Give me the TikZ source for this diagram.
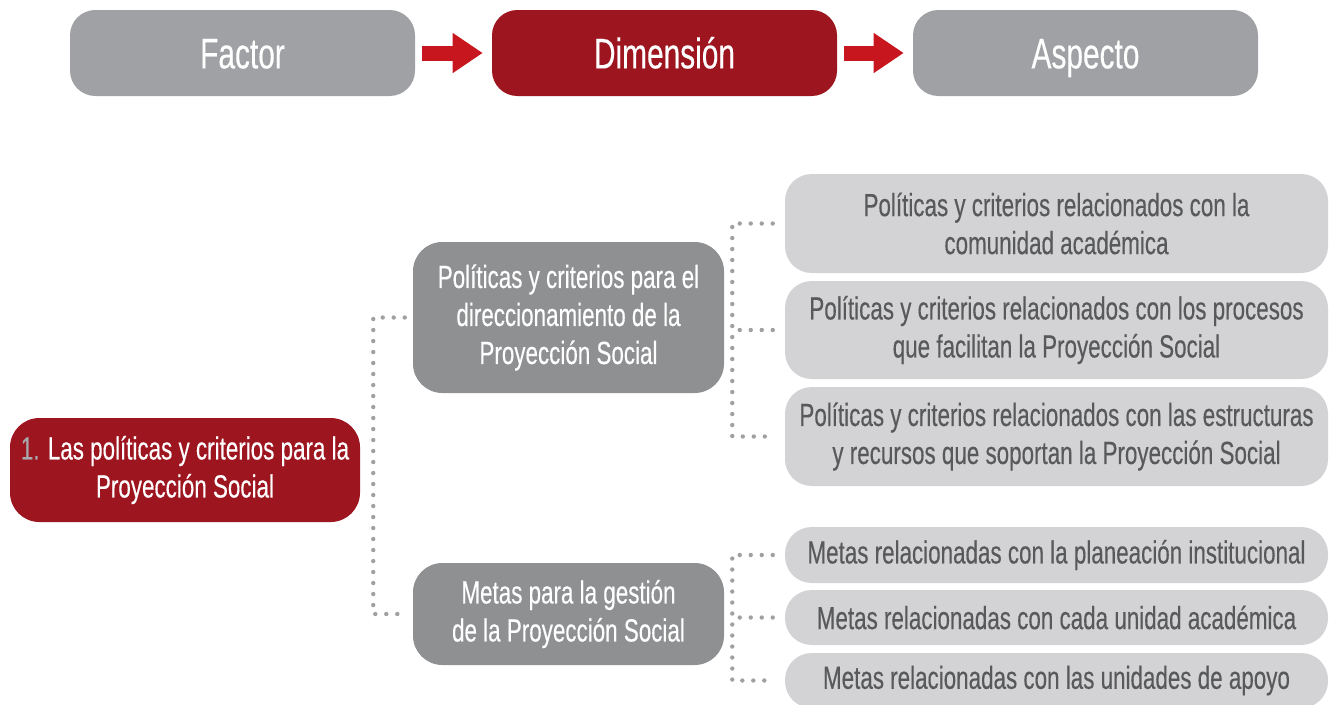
\documentclass[tikz,border=0pt]{standalone}
\usepackage{fontspec}
\setmainfont[FakeStretch=0.7,FakeBold=0.3]{Liberation Sans}
\usetikzlibrary{arrows.meta}

\definecolor{hdrgray}{RGB}{160,161,164}
\definecolor{dimgray}{RGB}{143,144,146}
\definecolor{asplight}{RGB}{211,211,213}
\definecolor{asptext}{RGB}{88,89,91}
\definecolor{darkred}{RGB}{157,21,31}
\definecolor{arrowred}{RGB}{200,22,30}
\definecolor{dotgray}{RGB}{160,160,162}
\definecolor{numgray}{RGB}{167,169,172}

\tikzset{
  hdrbox/.style={rounded corners=19pt, inner sep=0pt, minimum width=258.75pt, minimum height=64.5pt,
    text=white, text height=23pt, text depth=0pt, font=\fontsize{32}{36}\selectfont},
  dimbox/.style={fill=dimgray, rounded corners=22pt, inner sep=0pt, minimum width=233.25pt,
    text=white, align=center, font=\fontsize{24}{28.5}\selectfont},
  aspbox/.style={fill=asplight, rounded corners=20pt, inner sep=0pt, minimum width=407.25pt,
    text=asptext, align=center, font=\fontsize{24}{28.5}\selectfont},
  dotline/.style={draw=dotgray, line width=3.3pt, line cap=round, dash pattern=on 0pt off 8.25pt},
  hdrarrow/.style={draw=arrowred, line width=11.25pt, -{Triangle[length=22.5pt,width=28.5pt,fill=arrowred]}}
}

\begin{document}
\begin{tikzpicture}[x=0.75pt,y=0.75pt,yscale=-1]
\useasboundingbox (0,0) rectangle (1330,704);

%Header
\node[hdrbox, fill=hdrgray] (fac) at (242.5,53) {Factor};
\node[hdrbox, fill=darkred] (dim) at (664.5,53) {Dimensión};
\node[hdrbox, fill=hdrgray] (asp) at (1085.5,53) {Aspecto};
%Arrows
\draw[hdrarrow] ([xshift=5.25pt]fac.east) -- ([xshift=-6.75pt]dim.west);
\draw[hdrarrow] ([xshift=5.25pt]dim.east) -- ([xshift=-6.75pt]asp.west);

%Factor
\node[fill=darkred, rounded corners=22pt, inner sep=0pt, minimum width=262.5pt, minimum height=78pt,
  text=white, align=center, font=\fontsize{24}{28.5}\selectfont] (f1) at (185,470)
  {{\color{numgray}1.} Las políticas y criterios para la\\Proyección Social};

%Dimensions
\node[dimbox, minimum height=113.25pt] (d1) at (568.5,317.5) {Políticas y criterios para el\\direccionamiento de la\\Proyección Social};
\node[dimbox, minimum height=76.5pt] (d2) at (568.5,614) {Metas para la gestión\\de la Proyección Social};

%Aspects
\node[aspbox, minimum height=74.25pt] (a1) at (1056.5,223.5) {Políticas y criterios relacionados con la\\comunidad académica};
\node[aspbox, minimum height=73.5pt] (a2) at (1056.5,330) {Políticas y criterios relacionados con los procesos\\que facilitan la Proyección Social};
\node[aspbox, minimum height=74.25pt] (a3) at (1056.5,436.5) {Políticas y criterios relacionados con las estructuras\\y recursos que soportan la Proyección Social};
\node[aspbox, minimum height=42pt] (a4) at (1056.5,555) {Metas relacionadas con la planeación institucional};
\node[aspbox, minimum height=41.25pt] (a5) at (1056.5,617.5) {Metas relacionadas con cada unidad académica};
\node[aspbox, minimum height=41.25pt] (a6) at (1056.5,680.5) {Metas relacionadas con las unidades de apoyo};

%Dotted Lines
\draw[dotline] ([xshift=-6pt]d1.west) -| ([xshift=9.75pt]f1.east) |- ([xshift=-6pt]d2.west);
\draw[dotline] ([xshift=-9pt]a1.west) -| ([xshift=6pt]d1.east) |- ([xshift=-9pt]a3.west);
\draw[dotline] ([xshift=-9pt]a2.west) -- ([xshift=6pt]d1.east |- a2.west);
\draw[dotline] ([xshift=-9pt]a4.west) -| ([xshift=6pt]d2.east) |- ([xshift=-9pt]a6.west);
\draw[dotline] ([xshift=-9pt]a5.west) -- ([xshift=6pt]d2.east |- a5.west);

\end{tikzpicture}
\end{document}
